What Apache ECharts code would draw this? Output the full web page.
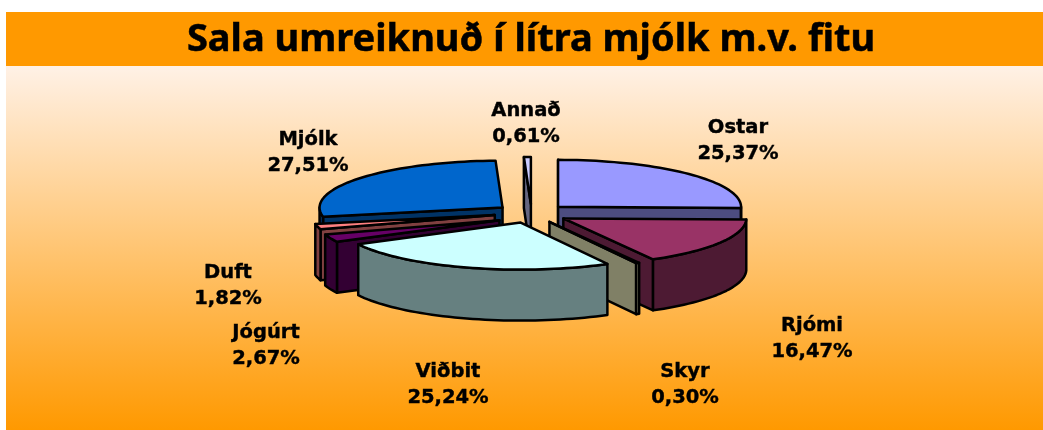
<!DOCTYPE html>
<html><head><meta charset="utf-8">
<style>html,body{margin:0;padding:0;background:#fff}#c{width:1043px;height:430px}</style>
<script src="https://cdn.jsdelivr.net/npm/echarts@6/dist/echarts.min.js"></script>
</head><body><div id="c"></div>
<script>
const categories = ['Ostar','Rjómi','Skyr','Viðbit','Jógúrt','Duft','Mjólk','Annað'];
const shares = [25.37,16.47,0.30,25.24,2.67,1.82,27.51,0.61];
const topColors = ['#9999FF','#993366','#FFFFCC','#CCFFFF','#660066','#FF8080','#0066CC','#CCCCFF'];
const sideColors = ['#4D4D80','#4D1A33','#808066','#668080','#330033','#804040','#003366','#666680'];
const labelCentres = [[738,141],[812,339],[685,385],[448,385],[266,346],[228,286],[308,153],[526,124]];
const sliceNudges = [[0,0],[0,0],[0,0],[0,0],[2,3],[-1,-1],[0,0],[0,0]];
const titleText = 'Sala umreiknuð í lítra mjólk m.v. fitu';

const PIE = {cx:531.6, cy:213.5, rx:183, ry:47, depth:51, explode:37};
const total = shares.reduce((a,b)=>a+b,0);
const rad = d => d*Math.PI/180;
const LINE = {stroke:'#000', lineWidth:2.5, lineJoin:'round'};

function wedge(i){
  let s=0; for(let k=0;k<i;k++) s+=shares[k];
  const a0=s/total*360, a1=(s+shares[i])/total*360, m=(a0+a1)/2;
  const cx=PIE.cx+PIE.explode*Math.sin(rad(m))+sliceNudges[i][0];
  const cy=PIE.cy-PIE.explode*(PIE.ry/PIE.rx)*Math.cos(rad(m))+sliceNudges[i][1];
  return {a0,a1,cx,cy};
}
const rankByDepth = categories.map((_,i)=>i).sort((p,q)=>wedge(p).cy-wedge(q).cy);

function renderItem(params, api){
  const i=params.dataIndex, v=api.value(0);
  const w=wedge(i);
  const pt=(a,dy=0)=>[w.cx+PIE.rx*Math.sin(rad(a)), w.cy-PIE.ry*Math.cos(rad(a))+dy];
  const arc=(a,b,dy=0)=>{const n=Math.max(2,Math.ceil(Math.abs(b-a)/2)),o=[];
    for(let k=0;k<=n;k++)o.push(pt(a+(b-a)*k/n,dy));return o;};
  const ch=[]; const z=rankByDepth.indexOf(i)*5+1;
  const poly=(points,fill,dz)=>ch.push({type:'polygon',z2:z+dz,shape:{points},style:{fill,...LINE}});
  const radial=a=>{const A=[w.cx,w.cy],R=pt(a);
    poly([A,R,[R[0],R[1]+PIE.depth],[A[0],A[1]+PIE.depth]],sideColors[i],0);};
  if(Math.sin(rad(w.a0))<0.001) radial(w.a0);
  if(Math.sin(rad(w.a1))>0.001) radial(w.a1);
  const f0=Math.max(w.a0,90), f1=Math.min(w.a1,270);
  if(f1>f0) poly(arc(f0,f1).concat(arc(f1,f0,PIE.depth)),sideColors[i],1);
  poly([[w.cx,w.cy]].concat(arc(w.a0,w.a1)),topColors[i],2);
  const lc=labelCentres[i];
  ch.push({type:'text',z2:100,style:{
    text:categories[i]+'\n'+v.toFixed(2).replace('.',',')+'%',
    x:lc[0],y:lc[1],align:'center',verticalAlign:'middle',
    font:'bold 19.5px "DejaVu Sans"',lineHeight:26,fill:'#000',stroke:'#000',lineWidth:0.4}});
  return {type:'group',children:ch};
}

const chart=echarts.init(document.getElementById('c'),null,{renderer:'canvas'});
chart.setOption({
  animation:false,
  title:{text:titleText,left:526,top:16,textAlign:'center',
    textStyle:{fontFamily:'Noto Sans',fontWeight:'bold',fontSize:38,color:'#000',
      textBorderColor:'#000',textBorderWidth:0.5}},
  graphic:[
    {type:'rect',z:-10,silent:true,shape:{x:6,y:12,width:1037,height:54},style:{fill:'#FF9900'}},
    {type:'rect',z:-10,silent:true,shape:{x:6,y:66,width:1037,height:364},
      style:{fill:new echarts.graphic.LinearGradient(0,0,0,1,[
        {offset:0,color:'#FFF1E6'},{offset:1,color:'#FF9900'}])}}
  ],
  series:[{type:'custom',coordinateSystem:'none',renderItem,
    data:shares.map((v,i)=>({name:categories[i],value:[v]}))}]
});
</script></body></html>
